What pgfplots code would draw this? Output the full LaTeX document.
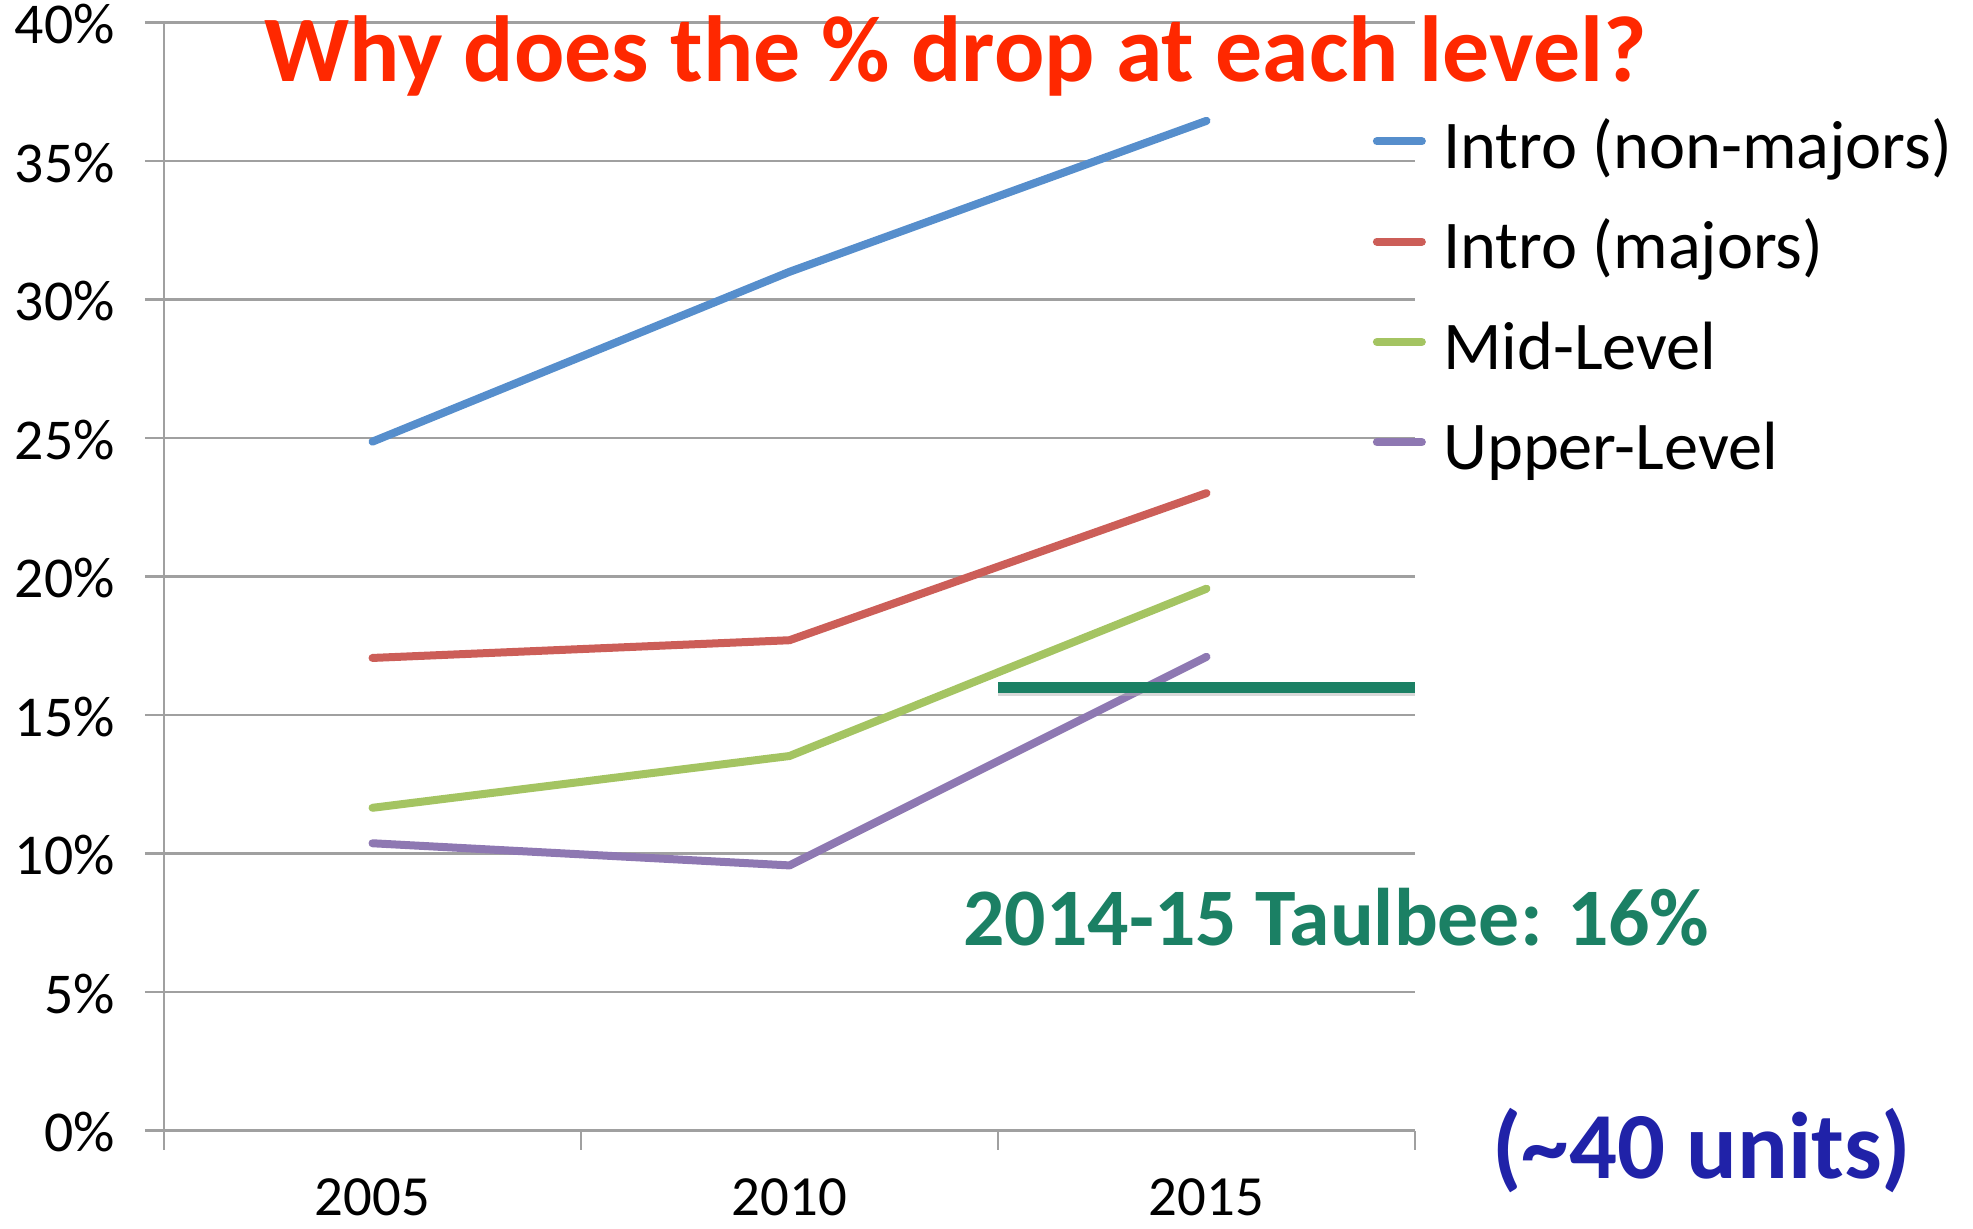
\documentclass[border=0pt]{standalone}
\usepackage{fontspec}
\setmainfont{Carlito}
\usepackage{pgfplots}
\pgfplotsset{compat=1.18}
\definecolor{cblue}{RGB}{86,142,204}
\definecolor{cred}{RGB}{204,94,88}
\definecolor{cgreen}{RGB}{164,196,98}
\definecolor{cpurple}{RGB}{142,120,178}
\definecolor{tgreen}{RGB}{27,128,100}
\definecolor{tred}{RGB}{255,40,0}
\definecolor{tblue}{RGB}{32,34,168}
\definecolor{cgrid}{RGB}{160,160,160}
\begin{document}
\begin{tikzpicture}
\useasboundingbox (0,0) rectangle (986.5bp,-614.5bp);
\begin{axis}[
  at={(82bp,-565.25bp)}, anchor=south west,
  scale only axis, width=625.5bp, height=554bp,
  xmin=-0.5, xmax=2.5, ymin=0, ymax=40,
  axis x line*=bottom, axis y line*=left,
  axis line style={cgrid, line width=1.2bp},
  xtick={-0.5,0.5,1.5,2.5},
  x tick label as interval,
  xticklabels={2005,2010,2015},
  ytick={0,5,10,15,20,25,30,35,40},
  yticklabels={0\%,5\%,10\%,15\%,20\%,25\%,30\%,35\%,40\%},
  tick align=outside,
  major tick length=9.5bp,
  every tick/.style={cgrid, line width=1.2bp},
  ymajorgrids, grid style={cgrid, line width=1.2bp},
  tick label style={font=\fontsize{29}{35}\selectfont, inner sep=0pt},
  yticklabel style={xshift=-15bp, yshift=-0.8bp},
  xticklabel style={yshift=-14.5bp, font=\fontsize{28.5}{34}\selectfont},
  legend style={draw=none, fill=none, inner sep=0pt,
    at={(axis description cs:0.966,0.757)}, anchor=west,
    row sep=11.45bp, column sep=8.7bp,
    font=\fontsize{34.3}{40}\selectfont,
    nodes={inner sep=0pt, text height=33bp, text depth=5.7bp}},
  legend cell align=left,
  legend image code/.code={\draw[#1, line width=4bp, line cap=round] (0bp,0bp) -- (22.5bp,0bp);},
  every axis plot/.append style={line width=4bp, line cap=round, line join=round, mark=none},
]
\addplot[cblue] coordinates {(0,24.87) (1,31.0) (2,36.45)};
\addlegendentry{Intro (non-majors)}
\addplot[cred] coordinates {(0,17.06) (1,17.70) (2,23.01)};
\addlegendentry{Intro (majors)}
\addplot[cgreen] coordinates {(0,11.65) (1,13.52) (2,19.56)};
\addlegendentry{Mid-Level}
\addplot[cpurple] coordinates {(0,10.37) (1,9.57) (2,17.10)};
\addlegendentry{Upper-Level}
\addplot[black!30, opacity=0.5, line width=5.4bp, line cap=butt, forget plot, transform canvas={yshift=-1.5bp}] coordinates {(1.5,16) (2.5,16)};
\addplot[tgreen, line width=5.4bp, line cap=butt, forget plot] coordinates {(1.5,16) (2.5,16)};
\end{axis}
\node[anchor=base west, inner sep=0pt, text=tred, font=\bfseries\fontsize{47.1}{52}\selectfont] at (132bp,-40.5bp) {Why does the \% drop at each level?};
\node[anchor=base west, inner sep=0pt, text=tgreen, font=\bfseries\fontsize{41}{46}\selectfont] at (481.5bp,-472.85bp) {2014-15 Taulbee: 16\%};
\node[anchor=base west, inner sep=0pt, text=tblue, font=\bfseries\fontsize{47.5}{52}\selectfont] at (746bp,-589bp) {(\textasciitilde 40 units)};
\end{tikzpicture}
\end{document}
